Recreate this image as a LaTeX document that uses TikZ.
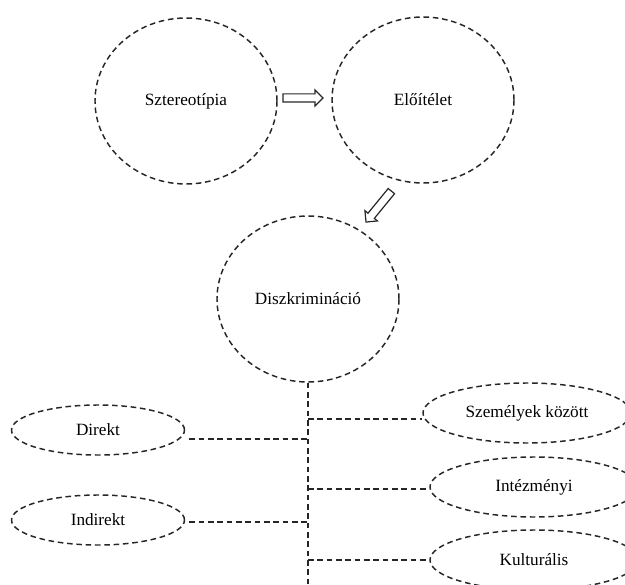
\documentclass[tikz,border=0pt]{standalone}
\usepackage{fontspec}
\setmainfont{Liberation Serif}
\usetikzlibrary{shapes.geometric,shapes.arrows}
\newlength\px
\setlength\px{0.75pt}
\tikzset{
  dashline/.style={dash pattern=on 4.2pt off 2.8pt, line width=1.1pt, draw=black!85},
  label/.style={font=\fontsize{12.9}{15}\selectfont},
  bigcirc/.style={ellipse, draw, dashline, label, minimum width=182*\px, minimum height=166*\px},
  sideell/.style={ellipse, draw, dashline, label, minimum width=173*\px, minimum height=50*\px},
  rightell/.style={ellipse, draw, dashline, label, minimum width=208*\px, minimum height=60*\px},
  hollowarrow/.style={single arrow, draw=black!85, line width=0.9pt, inner xsep=0pt, inner ysep=3.5*\px, minimum width=0pt, minimum height=40*\px, single arrow head extend=4*\px}
}
\begin{document}
\begin{tikzpicture}[x=0.75pt,y=-0.75pt]
\useasboundingbox (0,0) rectangle (625,585);
\clip (0,0) rectangle (625,585);

% Draw the three circles
\node[bigcirc] (szt) at (186,101) {Sztereotípia};
\node[bigcirc] (elo) at (423,100) {Előítélet};
\node[bigcirc] (disz) at (308,299) {Diszkrimináció};

% Draw the hollow arrows
\node[hollowarrow] (arr1) at (301,98) {};
\node[hollowarrow, rotate=230.7] (arr2) at (380,205) {};

% Draw the forms
\node[sideell] (dir) at (98,430) {Direkt};
\node[sideell] (indir) at (98,520) {Indirekt};
\node[rightell] (szem) at (527,413) {Személyek között};
\node[rightell] (intez) at (534,487) {Intézményi};
\node[rightell] (kult) at (534,560) {Kulturális};

% Draw the trunk
\coordinate (bot) at (308,585);
\draw[dashline] (disz.south) -- (bot);

% Draw the branches
\coordinate (d1) at ([xshift=3pt,yshift=-6.75pt]dir.east);
\coordinate (d2) at ([xshift=3pt,yshift=-1.5pt]indir.east);
\coordinate (s1) at ([yshift=-4.5pt]szem.west);
\coordinate (s2) at ([yshift=-1.5pt]intez.west);
\draw[dashline] (d1) -- (d1 -| bot);
\draw[dashline] (d2) -- (d2 -| bot);
\draw[dashline] (s1 -| bot) -- (s1);
\draw[dashline] (s2 -| bot) -- (s2);
\draw[dashline] (kult.west -| bot) -- (kult.west);
\end{tikzpicture}
\end{document}
